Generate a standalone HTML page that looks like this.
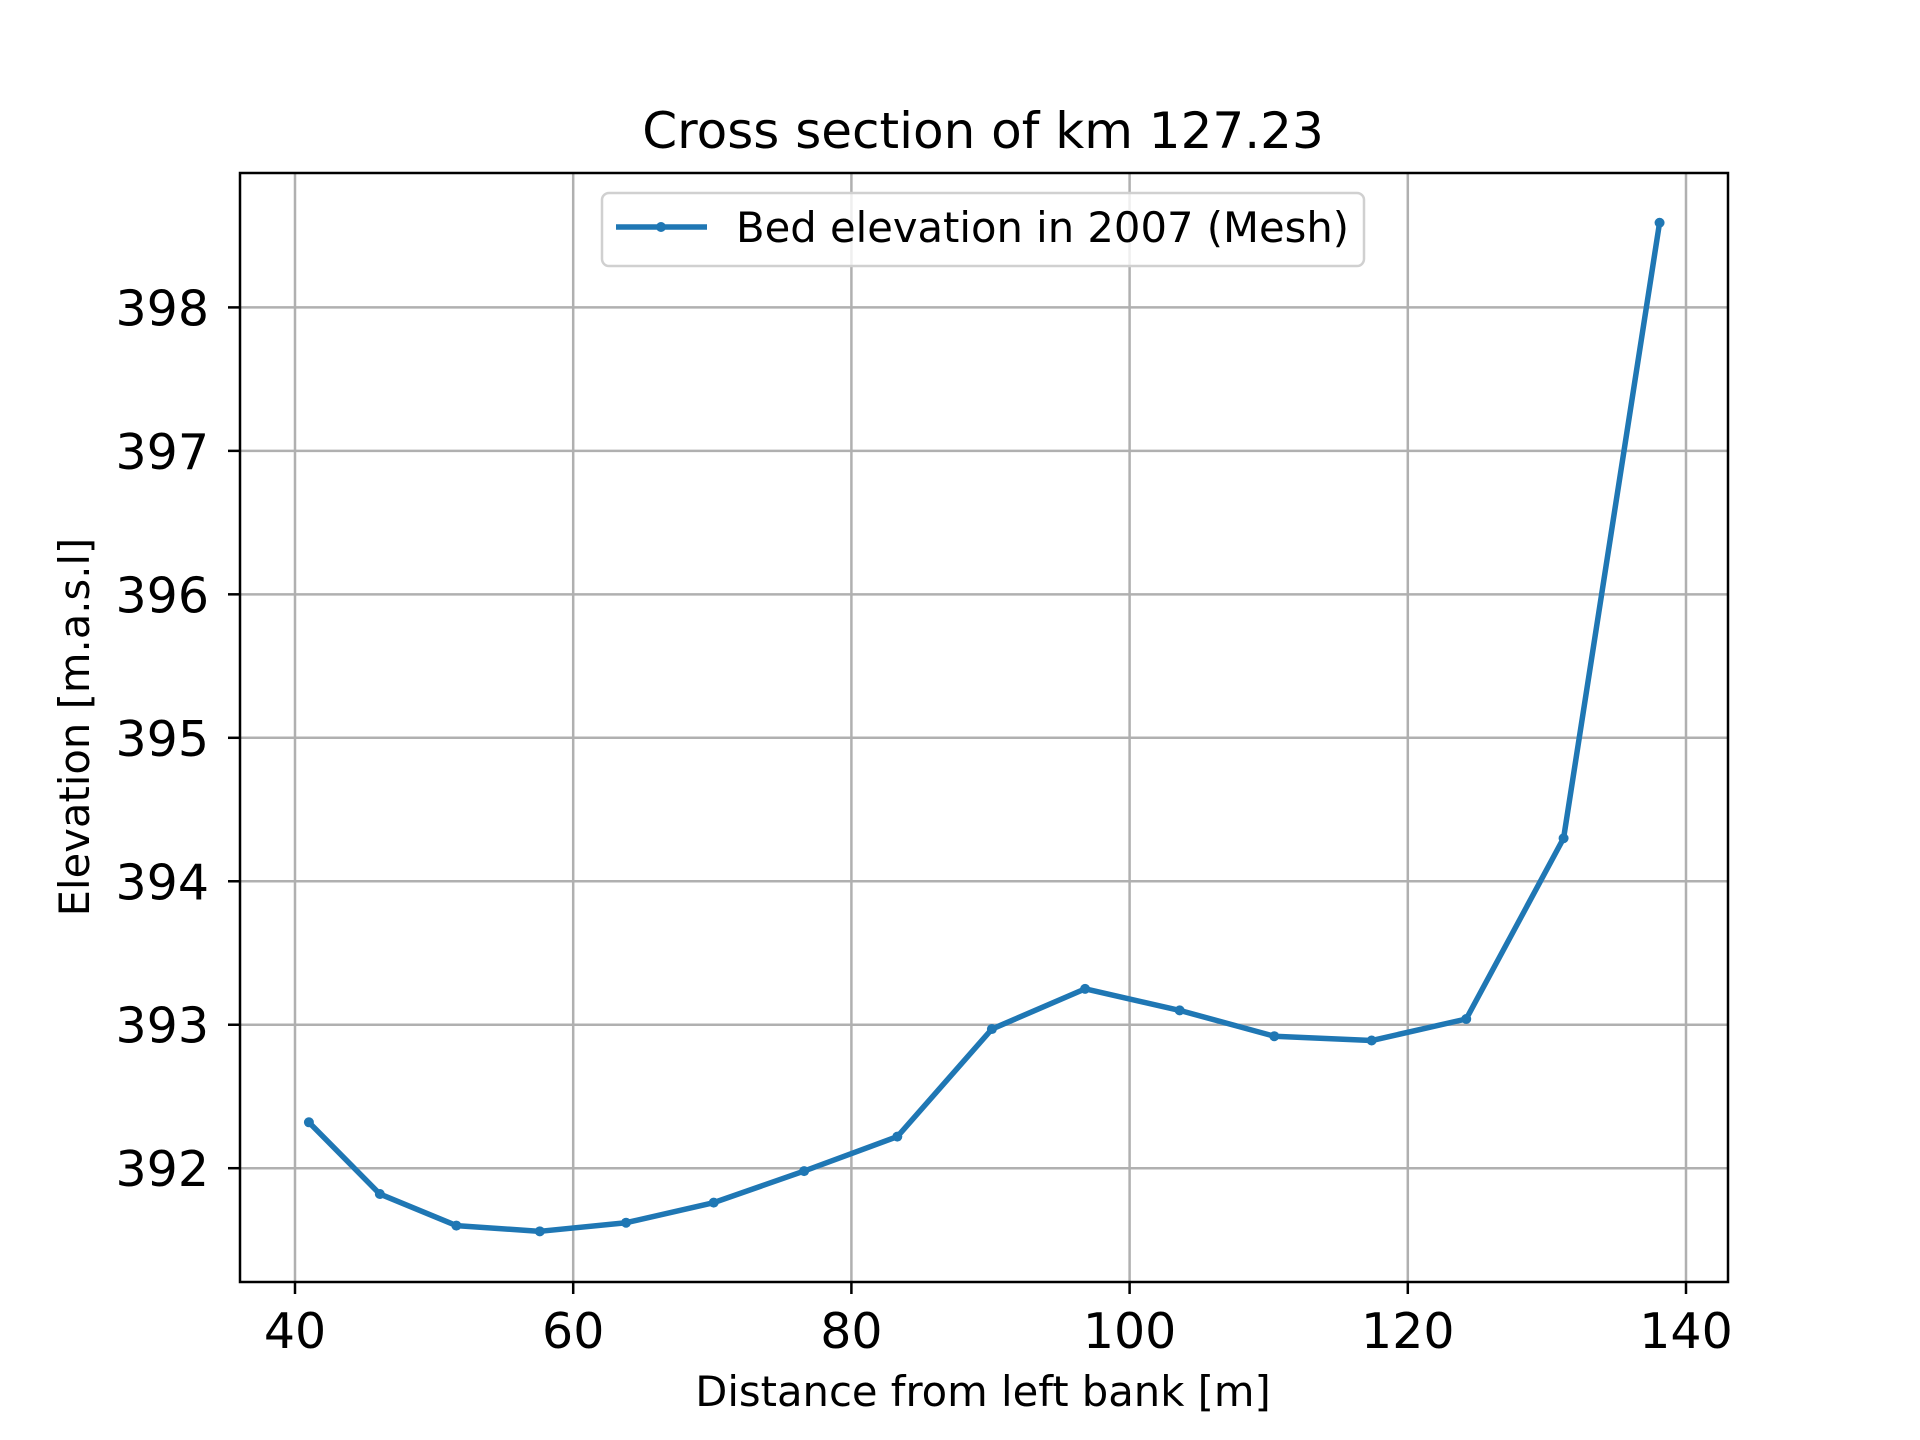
<!DOCTYPE html>
<html><head><meta charset="utf-8"><style>
html,body{margin:0;padding:0;background:#fff;}
svg{display:block;font-family:"DejaVu Sans","Liberation Sans",sans-serif;}
</style></head><body>
<svg id="chart" width="1920" height="1440" viewBox="0 0 1920 1440">
<rect width="1920" height="1440" fill="#fff"/>
<g id="grid"></g>
<g id="ticks"></g>
<g id="series"></g>
<rect x="240" y="173" width="1488" height="1109" fill="none" stroke="#000" stroke-width="2.5"/>
<text x="983" y="148" font-size="50" text-anchor="middle">Cross section of km 127.23</text>
<text x="983" y="1406" font-size="41.7" text-anchor="middle">Distance from left bank [m]</text>
<text x="0" y="0" font-size="41.7" text-anchor="middle" transform="translate(89,727) rotate(-90)">Elevation [m.a.s.l]</text>
<g>
<rect x="602" y="193" width="762" height="73" rx="7" fill="#fff" fill-opacity="0.8" stroke="#d0d0d0" stroke-width="2.5"/>
<line x1="616" y1="227" x2="707" y2="227" stroke="#1f77b4" stroke-width="5.5"/>
<circle cx="661" cy="227" r="5" fill="#1f77b4"/>
<text x="736" y="242" font-size="41.7">Bed elevation in 2007 (Mesh)</text>
</g>
</svg>
<script>
const xValues=[41.0,46.1,51.6,57.6,63.8,70.1,76.6,83.3,90.1,96.8,103.6,110.4,117.4,124.2,131.2,138.1];
const yValues=[392.32,391.82,391.60,391.56,391.62,391.76,391.98,392.22,392.97,393.25,393.10,392.92,392.89,393.04,394.30,398.59];
const xTicks=[40,60,80,100,120,140];
const yTicks=[392,393,394,395,396,397,398];
const NS="http://www.w3.org/2000/svg";
function sx(v){return 295+(v-40)*(1686-295)/100;}
function sy(v){return 1168.2-(v-392)*(1168.2-307.4)/6;}
function mk(tag,attrs,parent){const e=document.createElementNS(NS,tag);for(const k in attrs)e.setAttribute(k,attrs[k]);parent.appendChild(e);return e;}
const grid=document.getElementById('grid'),ticks=document.getElementById('ticks'),series=document.getElementById('series');
xTicks.forEach(t=>{const x=sx(t);
 const g=mk('line',{x1:x,x2:x,y1:173,y2:1282,stroke:'#b0b0b0','stroke-width':2.5},grid);
 
 
 const tk=mk('line',{x1:x,x2:x,y1:1282,y2:1294,stroke:'#000','stroke-width':2.5},ticks);
 
 
 const lb=mk('text',{x:x,y:1348,'font-size':49,'text-anchor':'middle'},ticks);lb.textContent=t;
 
 
});
yTicks.forEach(t=>{const y=sy(t);
 const g=mk('line',{x1:240,x2:1728,y1:y,y2:y,stroke:'#b0b0b0','stroke-width':2.5},grid);
 
 
 const tk=mk('line',{x1:228,x2:240,y1:y,y2:y,stroke:'#000','stroke-width':2.5},ticks);
 
 
 const lb=mk('text',{x:209,y:y+18,'font-size':49,'text-anchor':'end'},ticks);lb.textContent=t;
 
 
});
const pts=xValues.map((x,i)=>sx(x)+','+sy(yValues[i])).join(' ');
const pl=mk('polyline',{points:pts,fill:'none',stroke:'#1f77b4','stroke-width':5.5,'stroke-linejoin':'round','stroke-linecap':'round'},series);


xValues.forEach((x,i)=>{const c=mk('circle',{cx:sx(x),cy:sy(yValues[i]),r:5,fill:'#1f77b4'},series);
 
 
});
</script>
</body></html>
